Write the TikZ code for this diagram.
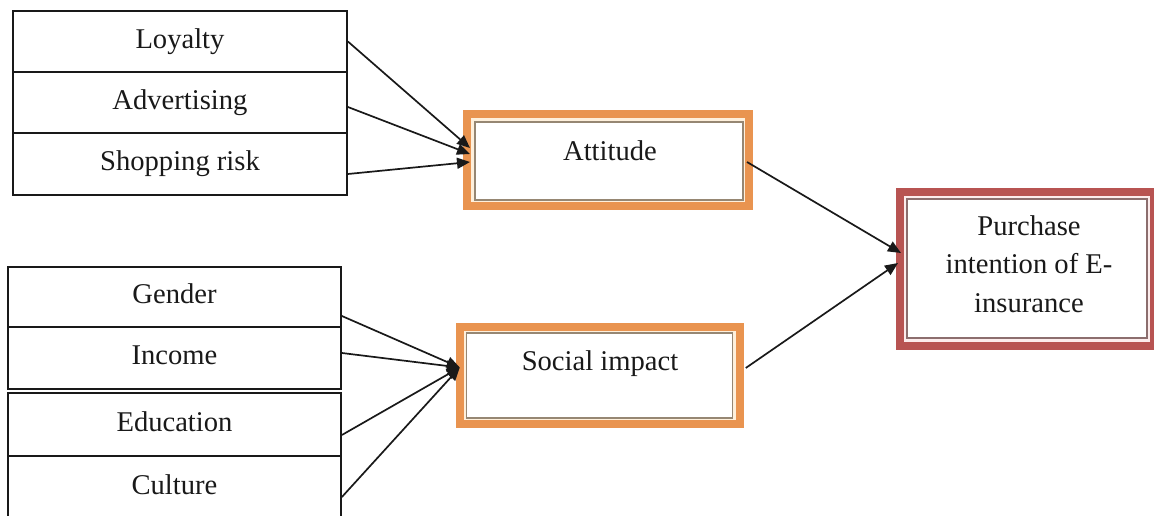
\documentclass[tikz,border=0pt]{standalone}
\usepackage{fontspec}
\setmainfont{Liberation Serif}
\usetikzlibrary{arrows.meta}
\definecolor{orangeB}{RGB}{233,148,80}
\definecolor{creamB}{RGB}{254,240,220}
\definecolor{innerA}{RGB}{150,135,115}
\definecolor{redB}{RGB}{184,84,82}
\definecolor{pinkB}{RGB}{252,236,236}
\definecolor{innerR}{RGB}{140,110,110}
\definecolor{inkC}{RGB}{25,25,25}
\newcommand\diafont{\fontsize{28.6}{38.5}\selectfont}
\tikzset{
  cell/.style={draw=inkC, line width=1.8pt, inner sep=0pt, minimum height=61pt,
    text height=19.5pt, text depth=6.2pt, font=\diafont, text=inkC},
  topcell/.style={cell, minimum width=334pt},
  botcell/.style={cell, minimum width=333pt},
  lbl/.style={inner sep=0pt, font=\diafont, text=inkC, text height=19.5pt, text depth=6.2pt},
  orangebox/.style={draw=orangeB, fill=creamB, line width=8pt, outer sep=0pt, inner sep=0pt},
  redbox/.style={draw=redB, fill=pinkB, line width=8pt, outer sep=0pt, inner sep=0pt},
  innerlineA/.style={draw=innerA, fill=white, line width=1.3pt},
  innerlineR/.style={draw=innerR, fill=white, line width=1.3pt},
  conn/.style={draw=inkC, line width=1.7pt, -{Triangle[length=13pt,width=11pt]}}
}
\begin{document}
\begin{tikzpicture}[x=1pt,y=-1pt]
\useasboundingbox (0,0) rectangle (1154,516);
% top group
\node[topcell, minimum height=61pt] (loy) at (180,41.5) {Loyalty};
\node[topcell, minimum height=61pt] (adv) at (180,102.5) {Advertising};
\node[topcell, minimum height=62pt] (shp) at (180,164) {Shopping risk};
% bottom groups
\node[botcell, minimum height=60pt] (gen) at (174.5,297) {Gender};
\node[botcell, minimum height=62pt] (inc) at (174.5,358) {Income};
\node[botcell, minimum height=63pt] (edu) at (174.5,424.5) {Education};
\node[botcell, minimum height=64pt] (cul) at (174.5,488) {Culture};
% Attitude
\node[orangebox, minimum width=282pt, minimum height=92pt] (att) at (608,160) {};
\draw[innerlineA] ([xshift=8pt,yshift=-8pt]att.north west) rectangle ([xshift=-6pt,yshift=6pt]att.south east);
\node[lbl] (attT) at (610,153.4) {Attitude};
% Social impact
\node[orangebox, minimum width=280pt, minimum height=97pt] (soc) at (599.75,375.5) {};
\draw[innerlineA] ([xshift=7pt,yshift=-6pt]soc.north west) rectangle ([xshift=-7pt,yshift=6pt]soc.south east);
\node[lbl] (socT) at (600,363.4) {Social impact};
% Purchase
\node[redbox, minimum width=254pt, minimum height=154pt] (pur) at (1027,269) {};
\draw[innerlineR] ([xshift=7pt,yshift=-7pt]pur.north west) rectangle ([xshift=-7pt,yshift=8pt]pur.south east);
\node[inner sep=0pt, font=\diafont, text=inkC, align=center] (purT) at (1029,263.75) {Purchase\\intention of E-\\insurance};
% connectors
\draw[conn] (loy.east) -- ([xshift=3pt,yshift=12pt]att.west);
\draw[conn] ([yshift=-4.5pt]adv.east) -- ([xshift=3pt,yshift=6pt]att.west);
\draw[conn] ([yshift=-10pt]shp.east) -- ([xshift=3pt,yshift=-2pt]att.west);
\draw[conn] ([yshift=-19pt]gen.east) -- ([yshift=8pt]soc.west);
\draw[conn] ([yshift=5pt]inc.east) -- ([yshift=8pt]soc.west);
\draw[conn] ([yshift=-10.5pt]edu.east) -- ([yshift=8pt]soc.west);
\draw[conn] ([yshift=-9pt]cul.east) -- ([yshift=8pt]soc.west);
\draw[conn] ([xshift=-2pt,yshift=-2pt]att.east) -- ([xshift=1pt,yshift=16pt]pur.west);
\draw[conn] ([xshift=6pt,yshift=7.5pt]soc.east) -- ([xshift=-2pt,yshift=6pt]pur.west);
\end{tikzpicture}
\end{document}
